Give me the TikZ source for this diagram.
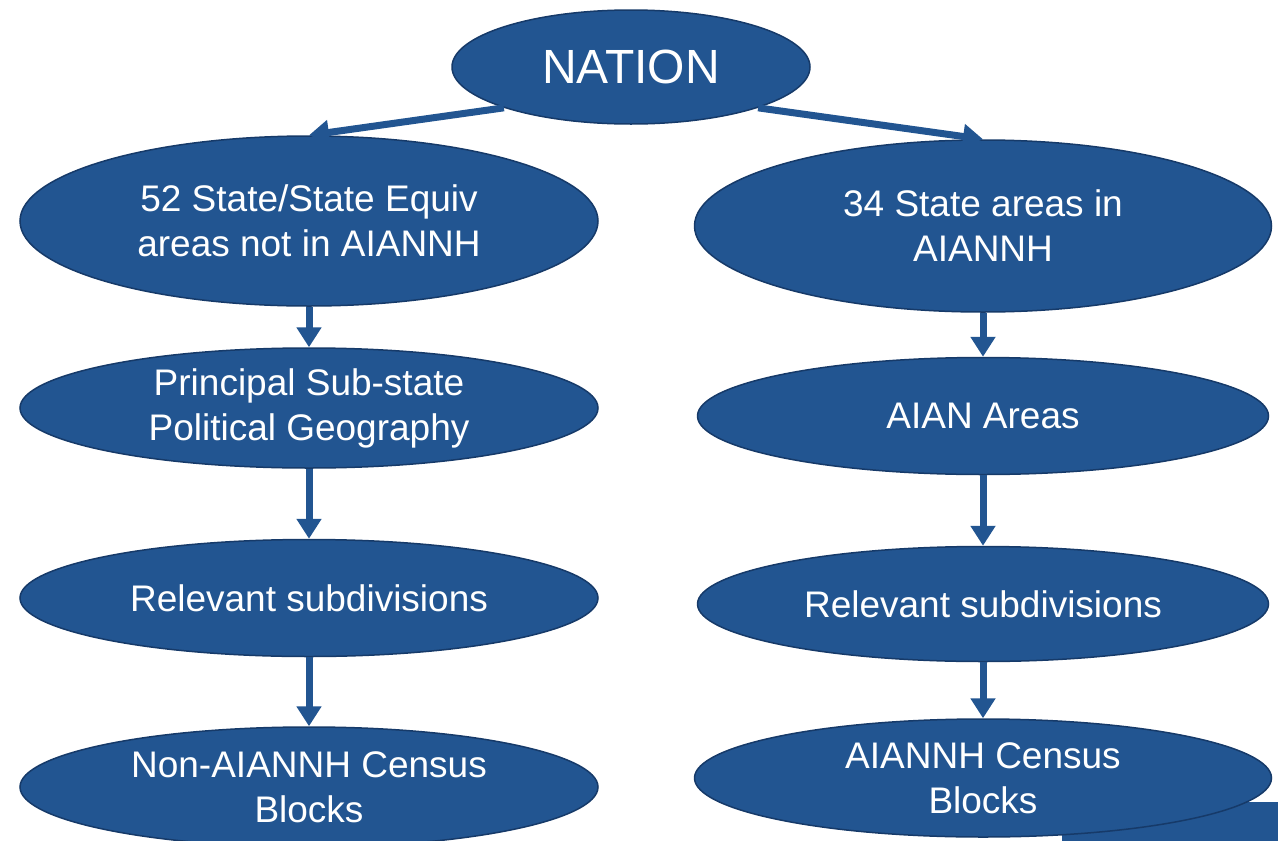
\documentclass[tikz,border=0pt]{standalone}
\usepackage{fontspec}
\setmainfont{Liberation Sans}
\usetikzlibrary{shapes.geometric,arrows.meta}
\definecolor{boxblue}{RGB}{34,85,145}
\definecolor{edgeblue}{RGB}{22,58,105}
\tikzset{
  oval/.style={ellipse, fill=boxblue, draw=edgeblue, line width=1.5pt, inner sep=0pt,
    text=white, align=center, font=\fontsize{37}{45}\selectfont},
  flow/.style={draw=boxblue, line width=7pt, -{Triangle[width=24pt,length=20pt]}}
}
\begin{document}
\begin{tikzpicture}[x=1pt,y=-1pt]
\useasboundingbox (0,0) rectangle (1278,841);
\clip (0,0) rectangle (1278,841);
\fill[boxblue] (1062,802) rectangle (1278,841);
\node[oval, minimum width=358pt, minimum height=114pt, font=\fontsize{48}{56}\selectfont] (nation) at (631,67) {NATION};
\node[oval, minimum width=578pt, minimum height=170pt] (l1) at (309,221) {52 State/State Equiv\\areas not in AIANNH};
\node[oval, minimum width=577pt, minimum height=172pt] (r1) at (983,226) {34 State areas in\\AIANNH};
\node[oval, minimum width=578pt, minimum height=120pt] (l2) at (309,408) {Principal Sub-state\\Political Geography};
\node[oval, minimum width=571pt, minimum height=117pt] (r2) at (983,416) {AIAN Areas};
\node[oval, minimum width=578pt, minimum height=117pt] (l3) at (309,598) {Relevant subdivisions};
\node[oval, minimum width=571pt, minimum height=115pt] (r3) at (983,604) {Relevant subdivisions};
\node[oval, minimum width=578pt, minimum height=120pt] (l4) at (309,787) {Non-AIANNH Census\\Blocks};
\node[oval, minimum width=577pt, minimum height=118pt] (r4) at (983,778) {AIANNH Census\\Blocks};
\draw[flow] (nation.south west) -- (l1.north);
\draw[flow] (nation.south east) -- (r1.north);
\draw[flow] (l1.south) -- (l2.north);
\draw[flow] (l2.south) -- (l3.north);
\draw[flow] (l3.south) -- (l4.north);
\draw[flow] (r1.south) -- (r2.north);
\draw[flow] (r2.south) -- (r3.north);
\draw[flow] (r3.south) -- (r4.north);
\end{tikzpicture}
\end{document}
